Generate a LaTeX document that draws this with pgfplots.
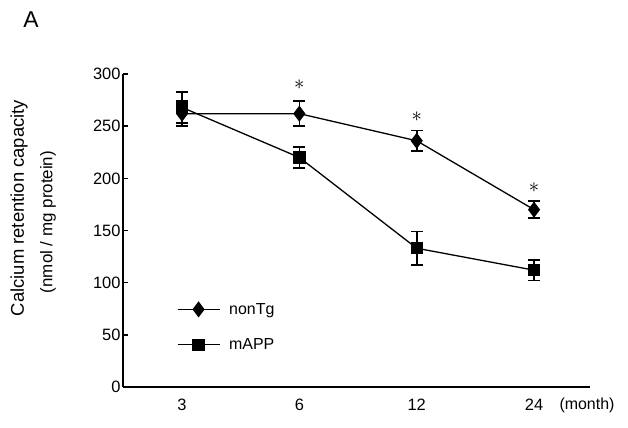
\documentclass[border=0pt]{standalone}
\usepackage{fontspec}
\setmainfont{Liberation Sans}
\usepackage{pgfplots}
\pgfplotsset{compat=1.18}
\begin{document}
\begin{tikzpicture}[x=1bp,y=1bp]
\useasboundingbox (0,0) rectangle (628,-427);
\node[font=\fontsize{23}{23}\selectfont, anchor=base] at (31,-27) {A};
\node[rotate=90, font=\fontsize{18.5}{18.5}\selectfont] at (19,-208) {Calcium retention capacity};
\node[rotate=90, font=\fontsize{17}{17}\selectfont] at (48,-222) {(nmol / mg protein)};
\begin{axis}[
  at={(123bp,-387bp)}, anchor=south west,
  width=467bp, height=313bp, scale only axis,
  xmin=-0.503, xmax=3.477, ymin=0, ymax=300,
  axis lines*=left,
  axis line style={line width=1.6bp, black},
  xtick={0,1,2,3}, xticklabels={3,6,12,24},
  x tick style={draw=none},
  ytick={0,50,100,150,200,250,300},
  y tick style={line width=1.4bp, black},
  tick align=inside, major tick length=5bp,
  tick label style={font=\fontsize{16.5}{16.5}\selectfont},
  /pgf/number format/assume math mode=true,
  xticklabel style={yshift=-8bp},
  yticklabel style={xshift=1bp},
  clip=false,
  legend style={draw=none, fill=none, at={(axis description cs:0.115,0.275)}, anchor=north west,
    font=\fontsize{16}{16}\selectfont, row sep=19bp, inner sep=0pt},
  legend cell align=left,
  legend image code/.code={\draw[mark repeat=2,mark phase=2] plot coordinates {(0bp,0bp)(21bp,0bp)(42bp,0bp)}; \path (49bp,0bp);},
]
\addplot[black, line width=1.3bp, mark=diamond*, mark size=7bp, mark options={solid, fill=black},
  error bars/.cd, y dir=both, y explicit,
  error bar style={line width=1.6bp, black},
  error mark options={rotate=90, mark size=6bp, line width=1.6bp, black}]
  table[x=x, y=y, y error=e] {
x y e
0 262 12
1 262 12
2 236 10
3 170 8
};
\addlegendentry{nonTg}
\addplot[black, line width=1.3bp, mark=square*, mark size=5.5bp, mark options={solid, fill=black},
  error bars/.cd, y dir=both, y explicit,
  error bar style={line width=1.6bp, black},
  error mark options={rotate=90, mark size=6bp, line width=1.6bp, black}]
  table[x=x, y=y, y error=e] {
x y e
0 268 15
1 220 10
2 133 16
3 112 10
};
\addlegendentry{mAPP}
\addplot[draw=none, mark=none, forget plot, nodes near coords={$\ast$},
  every node near coord/.style={anchor=center, font=\fontsize{22}{22}\selectfont}]
  coordinates {(1,290) (2,259) (3,191)};
\end{axis}
\node[font=\fontsize{16}{16}\selectfont, anchor=west] at (556,-405) {(month)};
\end{tikzpicture}
\end{document}
